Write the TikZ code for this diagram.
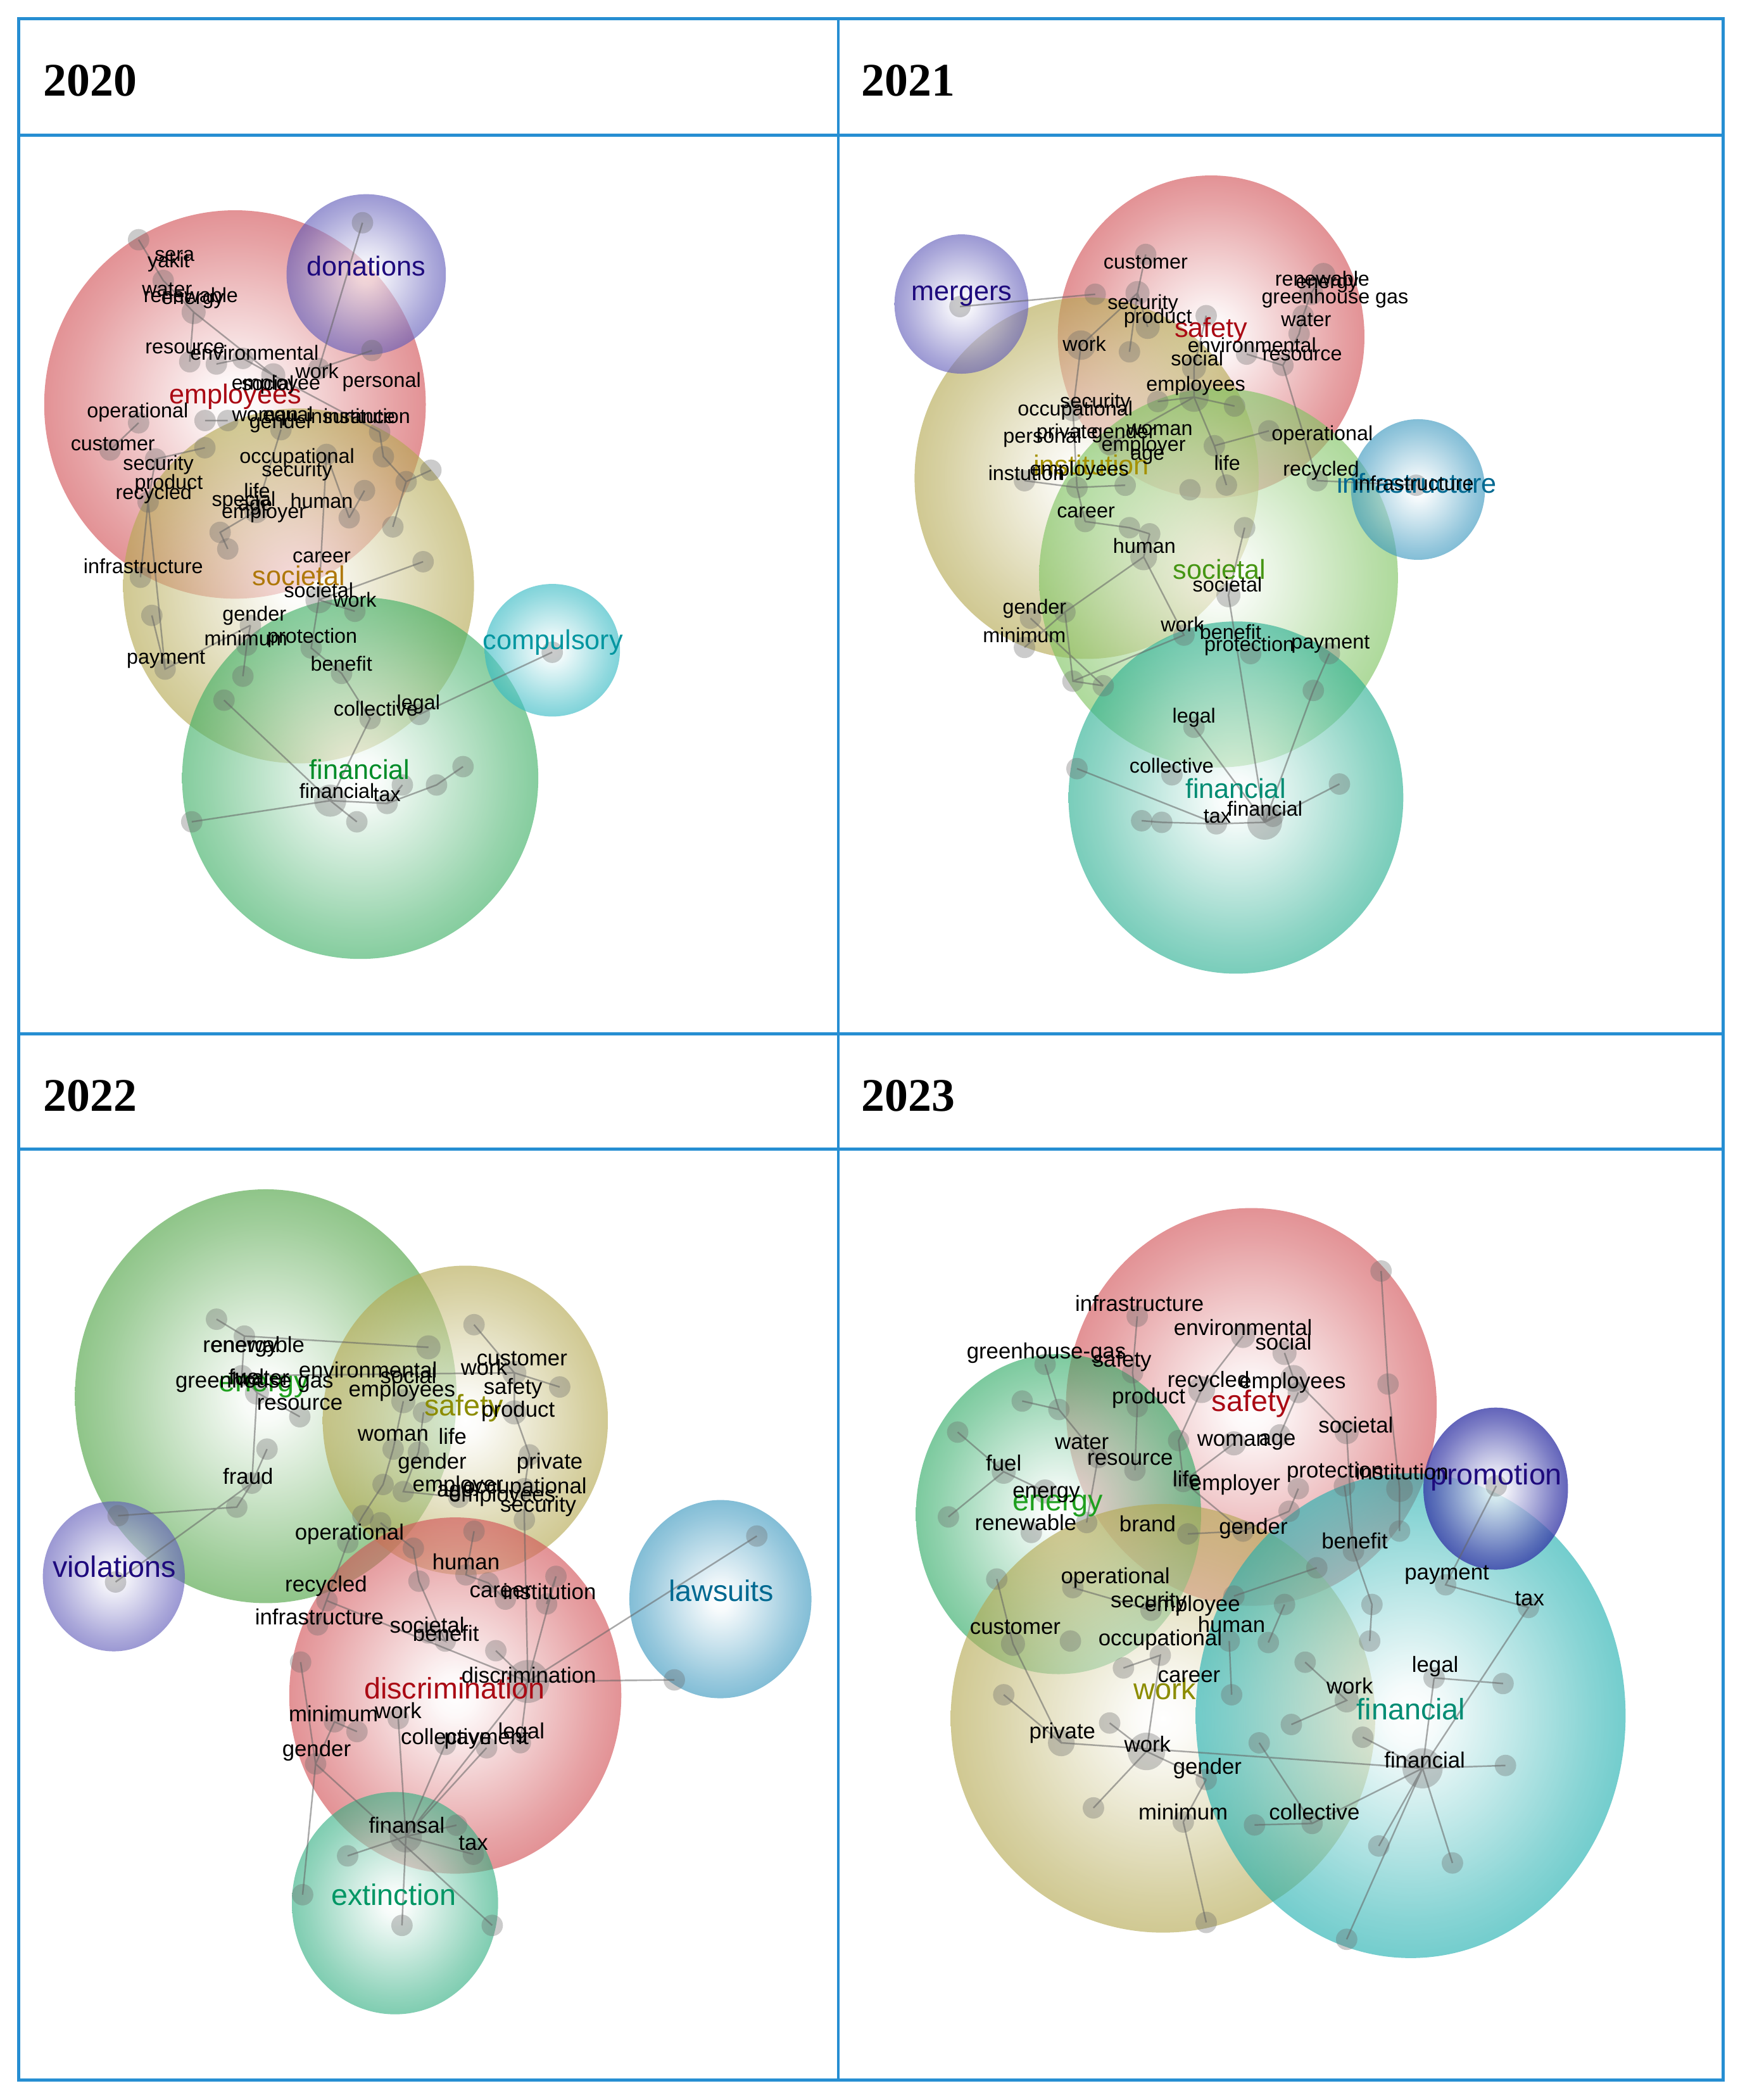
\documentclass[tikz,border=0pt]{standalone}
\usepackage{fontspec}
\setmainfont{Liberation Sans}
\newfontfamily\yearfont{Liberation Serif}
\definecolor{frame}{RGB}{38,142,210}
\definecolor{bRed}{RGB}{210,80,85}
\definecolor{bKhaki}{RGB}{180,168,80}
\definecolor{bGreen}{RGB}{60,175,100}
\definecolor{bLGreen}{RGB}{125,195,95}
\definecolor{bTeal}{RGB}{40,175,145}
\definecolor{bCyan}{RGB}{50,185,195}
\definecolor{bPurple}{RGB}{95,90,185}
\definecolor{bBlue}{RGB}{55,150,190}
\definecolor{bGreenB}{RGB}{75,162,65}
\definecolor{bTealG}{RGB}{50,175,130}
\definecolor{bGreenC}{RGB}{45,170,100}
\definecolor{bTealC}{RGB}{30,175,175}
\definecolor{bNavy}{RGB}{50,52,165}
\definecolor{lRed}{RGB}{170,10,20}
\definecolor{lNavy}{RGB}{30,10,125}
\definecolor{lGold}{RGB}{175,120,10}
\definecolor{lGreen}{RGB}{0,140,40}
\definecolor{lCyan}{RGB}{0,150,160}
\definecolor{lOlive}{RGB}{165,145,0}
\definecolor{lBlue}{RGB}{0,105,145}
\definecolor{lLGreen}{RGB}{70,150,20}
\definecolor{lTeal}{RGB}{0,140,115}
\definecolor{lOliveB}{RGB}{140,140,0}
\definecolor{lGreenB}{RGB}{30,160,30}
\definecolor{lTealB}{RGB}{0,150,100}
\colorlet{bubcol}{red}
\pgfdeclareradialshading[bubcol]{bub}{\pgfpoint{0bp}{0bp}}{%
 color(0bp)=(bubcol!0);color(3bp)=(bubcol!6);color(12bp)=(bubcol!45);color(21bp)=(bubcol!85);color(25bp)=(bubcol);color(50bp)=(bubcol)}
\tikzset{
 bubble/.code={\colorlet{bubcol}{#1}\tikzset{shading=bub}},
 bub/.style={fill opacity=.62},
 dot/.style={fill={rgb,255:red,105;green,105;blue,105}, fill opacity=.34},
 edge/.style={draw={rgb,255:red,100;green,100;blue,100}, draw opacity=.55, line width=.7pt},
 w/.style={inner sep=0pt, font=\fontsize{9.2}{10}\selectfont, text=black},
 big/.style={inner sep=0pt, font=\fontsize{12.3}{14}\selectfont},
 yr/.style={inner sep=0pt, anchor=west, font=\yearfont\bfseries\fontsize{21}{24}\selectfont},
 gridline/.style={draw=frame, line width=1.3pt}
}
\newcommand\mkdot[4][8]{\coordinate (#2) at (#3,#4);\fill[dot] (#2) circle[radius=#1];}
\newcommand\lb[4]{\node[w] (#1) at (#2,#3) {#4};}
\newcommand\bl[5]{\node[big,text=#5] (#1) at (#2,#3) {#4};}
\begin{document}
\begin{tikzpicture}[x=0.021151cm,y=-0.021151cm]
\useasboundingbox (0,0) rectangle (1303,1568);
\fill[white] (0,0) rectangle (1303,1568);
%================ 2020 =================
\shade[bubble=bRed,bub] (175.5,302) ellipse [x radius=142.5,y radius=145];
\shade[bubble=bKhaki,bub] (223,437.5) ellipse [x radius=131,y radius=132.5];
\shade[bubble=bPurple,bub] (273.5,205) ellipse [x radius=59.5,y radius=60];
\shade[bubble=bGreen,bub] (269,581) ellipse [x radius=133,y radius=135];
\shade[bubble=bCyan,bub] (412.5,485.5) ellipse [x radius=50.5,y radius=49.5];
\mkdot{a1}{270.7}{166.3}\mkdot{a2}{103.5}{179}\mkdot{a3}{121.9}{209.4}\mkdot[9]{a4}{144.6}{233}
\mkdot{a5}{277.8}{261.7}\mkdot{a6}{141.7}{270.1}\mkdot{a7}{161.6}{271.8}\mkdot{a8}{181.4}{267.6}
\mkdot[9]{a9}{204.1}{280.2}\mkdot[8]{a10}{238.1}{275.2}\mkdot{a11}{103.5}{315.7}\mkdot{a12}{153.1}{314}
\mkdot{a13}{170.1}{314}\mkdot[8]{a14}{82.2}{336}\mkdot[8]{a15}{116.2}{342.7}\mkdot{a16}{153}{334.3}
\mkdot{a17}{209.8}{320.8}\mkdot[8]{a18}{283.5}{322.5}\mkdot{a19}{286.3}{341}\mkdot{a20}{303.3}{359.6}
\mkdot{a21}{321.8}{351.1}\mkdot{a22}{272.2}{366.3}\mkdot{a23}{260.8}{386.6}\mkdot{a24}{293.4}{393.4}
\mkdot[9]{a25}{191.3}{381.6}\mkdot{a26}{164.4}{397.5}\mkdot{a27}{110.6}{374.8}\mkdot{a28}{243.8}{339.3}
\mkdot{a29}{170.1}{409.9}\mkdot{a30}{316}{419.4}\mkdot{a31}{104.9}{431}\mkdot[10]{a32}{238.1}{447.9}
\mkdot[8]{a33}{265}{456.4}\mkdot{a34}{113.4}{459.5}\mkdot{a35}{187}{466.9}\mkdot{a36}{184.3}{481.7}
\mkdot{a37}{232.4}{483.8}\mkdot[8]{a38}{123.3}{499.6}\mkdot{a39}{181.4}{504.9}\mkdot{a40}{255.1}{502.8}
\mkdot{a41}{167.3}{522.8}\mkdot[8]{a42}{276.4}{536.6}\mkdot{a43}{313.2}{533.4}\mkdot{a44}{412.4}{487}
\mkdot[12]{a45}{246.6}{597.8}\mkdot[8]{a46}{289.1}{599.9}\mkdot{a47}{300.5}{586.1}\mkdot{a48}{326}{586.1}
\mkdot{a49}{345.8}{572.4}\mkdot{a50}{143.2}{613.6}\mkdot{a51}{266.5}{613.6}
\draw[edge] (a1)--(a10) (a2)--(a3)--(a4)--(a6) (a4)--(a9) (a5)--(a10) (a7)--(a8)--(a9)--(a18)
 (a18)--(a19)--(a20)--(a21) (a20)--(a24) (a12)--(a13) (a11)--(a14) (a16)--(a15)--(a27)--(a38)
 (a27)--(a31) (a17)--(a25)--(a26)--(a29) (a28)--(a23) (a22)--(a23) (a28)--(a32) (a30)--(a32)
 (a34)--(a38)--(a35) (a35)--(a36)--(a39) (a32)--(a37)--(a40)--(a42)--(a45) (a41)--(a45)
 (a50)--(a45)--(a46)--(a48)--(a49) (a45)--(a51) (a43)--(a44) (a47)--(a46) (a32)--(a33);
\bl{A1}{175.8}{296.3}{employees}{lRed}
\bl{A2}{273.5}{198.4}{donations}{lNavy}
\bl{A3}{223.2}{430}{societal}{lGold}
\bl{A4}{268.6}{574.5}{financial}{lGreen}
\bl{A5}{413}{479.6}{compulsory}{lCyan}
\lb{at1}{130.4}{190.8}{sera}\lb{at2}{126}{195.9}{yakit}\lb{at3}{124.8}{216}{water}
\lb{at4}{142.5}{220.3}{renewable}\lb{at5}{143.9}{224.6}{energy}\lb{at6}{138.2}{260}{resource}
\lb{at7}{190}{263.4}{environmental}\lb{at8}{236.8}{276.9}{work}\lb{at9}{200}{286}{social}
\lb{at10}{206.2}{287}{employee}\lb{at11}{285}{285.3}{personal}\lb{at12}{102.8}{308.1}{operational}
\lb{at13}{198}{310.6}{woman}\lb{at14}{215}{310.6}{equal}\lb{at15}{262}{310.6}{insurance}
\lb{at16}{274}{310.6}{institution}\lb{at17}{210}{316}{gender}\lb{at18}{84.3}{331.7}{customer}
\lb{at19}{221.8}{341.9}{occupational}\lb{at20}{118.3}{347}{security}\lb{at21}{221.8}{352}{security}
\lb{at22}{126}{361.2}{product}\lb{at23}{114.8}{368.8}{recycled}\lb{at24}{192}{366.3}{life}
\lb{at25}{182}{374}{special}\lb{at26}{190.6}{379}{age}\lb{at27}{240.2}{374}{human}
\lb{at28}{197}{383.2}{employer}\lb{at29}{107}{422.6}{infrastructure}\lb{at30}{240.2}{416.2}{career}
\lb{at31}{238}{440.5}{societal}\lb{at32}{265}{447.9}{work}\lb{at33}{190}{459.5}{gender}
\lb{at34}{183.6}{476.4}{minimum}\lb{at35}{233.2}{476.4}{protection}\lb{at36}{124}{492.2}{payment}
\lb{at37}{255}{495.4}{benefit}\lb{at38}{280.6}{529.1}{collective}\lb{at39}{312.5}{526}{legal}
\lb{at40}{251.6}{590.4}{financial}\lb{at41}{289}{593.5}{tax}
%================ 2021 =================
\shade[bubble=bRed,bub] (904.5,251.5) ellipse [x radius=114.5,y radius=120.5];
\shade[bubble=bKhaki,bub] (811.5,357) ellipse [x radius=128.5,y radius=135];
\shade[bubble=bPurple,bub] (718,227) ellipse [x radius=50,y radius=52];
\shade[bubble=bLGreen,bub] (910,431.5) ellipse [x radius=134,y radius=141.5];
\shade[bubble=bBlue,bub] (1059,365.5) ellipse [x radius=50,y radius=52.5];
\shade[bubble=bTeal,bub] (923,595.5) ellipse [x radius=125,y radius=131.5];
\mkdot{b1}{855.6}{190}\mkdot[9]{b2}{849.5}{218.8}\mkdot{b3}{817.9}{219.7}\mkdot{b4}{716.9}{228.9}
\mkdot{b5}{900.8}{235.7}\mkdot[9]{b6}{857.1}{244.1}\mkdot[11]{b7}{807.3}{257.7}\mkdot{b8}{843.5}{262.7}
\mkdot[9]{b9}{988.3}{205.3}\mkdot[9]{b10}{979.2}{218.8}\mkdot[8]{b11}{973.2}{235.7}\mkdot{b12}{970.2}{249.2}
\mkdot{b13}{931}{264.4}\mkdot{b14}{958.1}{272.8}\mkdot[9]{b15}{891.7}{274.5}\mkdot[11]{b16}{891.7}{296.5}
\mkdot{b17}{922}{303.2}\mkdot{b18}{864.6}{299.8}\mkdot{b19}{801.3}{306.6}\mkdot{b20}{947.6}{321.7}
\mkdot{b21}{828.5}{331.9}\mkdot{b22}{906.9}{332.8}\mkdot{b23}{765.1}{358.9}\mkdot{b24}{840.3}{362.3}
\mkdot{b25}{983.7}{358.9}\mkdot{b26}{1057.6}{362.3}\mkdot{b27}{915.9}{362.2}\mkdot{b28}{804.3}{364}
\mkdot{b29}{888.7}{365.7}\mkdot{b30}{810.4}{389.4}\mkdot{b31}{843.5}{394}\mkdot[8]{b32}{858.6}{398.6}
\mkdot{b33}{929.5}{394}\mkdot[10]{b34}{854.1}{415.8}\mkdot[9]{b35}{917.4}{444.4}\mkdot{b36}{795.3}{457}
\mkdot{b37}{769.6}{461.6}\mkdot{b38}{765.1}{483.4}\mkdot[8]{b39}{884.2}{474.2}\mkdot{b40}{934}{488}
\mkdot{b41}{992.8}{488}\mkdot[8]{b42}{801.3}{508.6}\mkdot{b43}{823.9}{512}\mkdot{b44}{980.8}{515.5}
\mkdot{b45}{891.7}{543}\mkdot{b46}{804.3}{573.9}\mkdot[8]{b47}{875.2}{578.5}\mkdot{b48}{1000.3}{585.4}
\mkdot{b49}{950.6}{609.5}\mkdot[13]{b50}{944.5}{614}\mkdot[8]{b51}{908.4}{615.1}\mkdot{b52}{867.6}{614}
\mkdot{b53}{852.6}{612.8}
\draw[edge] (b4)--(b3) (b1)--(b2)--(b6) (b2)--(b7) (b2)--(b8) (b7)--(b19)--(b28)--(b30)
 (b5)--(b15)--(b16)--(b18) (b16)--(b17) (b16)--(b22)--(b27) (b16)--(b21)
 (b13)--(b14)--(b12)--(b11)--(b10)--(b9) (b14)--(b25)--(b26) (b20)--(b22)
 (b23)--(b28)--(b24) (b30)--(b31)--(b32) (b34)--(b36)--(b42)--(b43) (b34)--(b39)--(b42)
 (b33)--(b35)--(b50) (b37)--(b43) (b41)--(b44)--(b50) (b45)--(b50) (b46)--(b51)
 (b53)--(b52)--(b51)--(b50)--(b48) (b49)--(b50) (b32)--(b34) (b36)--(b38);
\bl{B1}{718.3}{221}{mergers}{lNavy}
\bl{B2}{904.5}{246.7}{safety}{lRed}
\bl{B3}{815}{347}{institution}{lOlive}
\bl{B4}{1058}{361}{infrastructure}{lBlue}
\bl{B5}{910.8}{425}{societal}{lLGreen}
\bl{B6}{922.7}{588.6}{financial}{lTeal}
\lb{bt1}{855.6}{196}{customer}\lb{bt2}{987.5}{208}{renewable}\lb{bt3}{991}{212.8}{energy}
\lb{bt4}{997}{223}{greenhouse gas}\lb{bt5}{853.5}{227.2}{security}\lb{bt6}{975.4}{239}{water}
\lb{bt7}{864.7}{237.4}{product}\lb{bt8}{809.8}{256.8}{work}\lb{bt9}{935}{257.7}{environmental}
\lb{bt10}{894}{267.6}{social}\lb{bt11}{972.5}{265.3}{resource}\lb{bt12}{893}{288}{employees}
\lb{bt13}{818}{300.8}{security}\lb{bt14}{803}{306.6}{occupational}\lb{bt15}{778.5}{326.7}{personal}
\lb{bt16}{797}{323.5}{private}\lb{bt17}{839}{323.5}{gender}\lb{bt18}{866}{321}{woman}
\lb{bt19}{854}{332.8}{employer}\lb{bt20}{857}{341.2}{age}\lb{bt21}{916.5}{345.4}{life}
\lb{bt22}{987.5}{325}{operational}\lb{bt23}{766.5}{353}{instution}\lb{bt24}{806}{351.3}{employees}
\lb{bt25}{986.6}{351.3}{recycled}\lb{bt26}{1056}{360.6}{infrastructure}\lb{bt27}{811}{382.5}{career}
\lb{bt28}{854.6}{407.7}{human}\lb{bt29}{916.6}{436.4}{societal}\lb{bt30}{772.6}{454.7}{gender}
\lb{bt31}{765}{474.2}{minimum}\lb{bt32}{883}{466.2}{work}\lb{bt33}{919}{471.9}{benefit}
\lb{bt34}{933}{482.3}{protection}\lb{bt35}{993.6}{481}{payment}\lb{bt36}{891.7}{536}{legal}
\lb{bt37}{875}{571.6}{collective}\lb{bt38}{944.6}{603.7}{financial}\lb{bt39}{909}{609.4}{tax}
%================ 2022 / 2023 =================
\begin{scope}[w/.append style={font=\fontsize{9.9}{11}\selectfont},big/.append style={font=\fontsize{13.3}{15}\selectfont}]
\shade[bubble=bGreenB,bub] (198.5,1042.5) ellipse [x radius=142.5,y radius=154.5];
\shade[bubble=bKhaki,bub] (347.5,1060.5) ellipse [x radius=106.5,y radius=115.5];
\shade[bubble=bPurple,bub] (85,1177) ellipse [x radius=53,y radius=56];
\shade[bubble=bBlue,bub] (538,1194) ellipse [x radius=68,y radius=74];
\shade[bubble=bRed,bub] (340,1266) ellipse [x radius=124,y radius=133];
\shade[bubble=bTealG,bub] (295,1421) ellipse [x radius=77,y radius=83];
\mkdot{c1}{161.7}{985}\mkdot{c2}{182.5}{997.6}\mkdot[9]{c3}{320}{1006}\mkdot{c4}{180.6}{1027.2}
\mkdot[9]{c5}{191.9}{1039.8}\mkdot[8]{c6}{223.9}{1057.8}\mkdot[9]{c7}{301.2}{1046.2}\mkdot{c8}{354}{989.1}
\mkdot[9]{c9}{384.1}{1025}\mkdot{c10}{418}{1035.6}\mkdot[9]{c11}{384.1}{1054.6}\mkdot{c12}{316.3}{1054.6}
\mkdot{c13}{199.4}{1082}\mkdot{c14}{293.6}{1082}\mkdot{c15}{312.5}{1084.2}\mkdot{c16}{395.4}{1086.3}
\mkdot{c17}{188.1}{1107.4}\mkdot{c18}{176.8}{1125.3}\mkdot{c19}{286.1}{1108.4}\mkdot{c20}{301.2}{1113.7}
\mkdot[8]{c21}{342.6}{1117.9}\mkdot{c22}{391.6}{1111.6}\mkdot{c23}{88.2}{1131.7}\mkdot{c24}{86.3}{1181.2}
\mkdot{c25}{271}{1131.7}\mkdot{c26}{284.2}{1137}\mkdot[8]{c27}{259.7}{1151.7}\mkdot{c28}{308.7}{1156}
\mkdot{c29}{354}{1143.3}\mkdot{c30}{391.6}{1134.8}\mkdot{c31}{565.2}{1146.9}\mkdot{c32}{312.9}{1180.6}
\mkdot{c33}{348}{1175.9}\mkdot{c34}{364.7}{1181.9}\mkdot{c35}{377.4}{1194}\mkdot[8]{c36}{415.2}{1177}
\mkdot{c37}{408.2}{1197.6}\mkdot{c38}{244.2}{1195.2}\mkdot{c39}{237.2}{1213.2}\mkdot{c40}{319.9}{1219.3}
\mkdot{c41}{332.5}{1225.3}\mkdot{c42}{370.3}{1232.5}\mkdot{c43}{224.5}{1241}\mkdot[16]{c44}{394.2}{1255.5}
\mkdot{c45}{503.6}{1254.3}\mkdot{c46}{249.8}{1285.6}\mkdot{c47}{266.6}{1292.9}\mkdot{c48}{297.4}{1283.2}
\mkdot{c49}{332.5}{1302.5}\mkdot{c50}{363.4}{1305}\mkdot{c51}{388.6}{1301.2}\mkdot[8]{c52}{235.7}{1317}
\mkdot[12]{c53}{303.1}{1371.2}\mkdot{c54}{340.9}{1362.8}\mkdot[8]{c55}{353.5}{1384.5}\mkdot{c56}{259.6}{1385.7}
\mkdot{c57}{226}{1414.7}\mkdot{c58}{300.2}{1437.6}\mkdot{c59}{367.6}{1437.6}
\draw[edge] (c1)--(c2)--(c4)--(c5) (c2)--(c3) (c4)--(c9) (c8)--(c9)--(c11) (c9)--(c10) (c5)--(c6)
 (c5)--(c17) (c13)--(c17)--(c18)--(c23) (c24)--(c17) (c7)--(c14)--(c19)--(c25)--(c27)--(c39)
 (c11)--(c16)--(c22)--(c30)--(c44) (c12)--(c15)--(c20)--(c21) (c26)--(c28)--(c32)--(c41)--(c40)
 (c29)--(c33)--(c34)--(c35) (c38)--(c44) (c36)--(c44) (c42)--(c44) (c31)--(c44) (c45)--(c44)
 (c44)--(c53) (c50)--(c53) (c49)--(c53) (c48)--(c53) (c51)--(c44) (c43)--(c52)--(c57)
 (c47)--(c46)--(c52) (c52)--(c59) (c53)--(c56) (c53)--(c58) (c53)--(c54) (c53)--(c55) (c37)--(c36);
\bl{C1}{197}{1035.5}{energy}{lGreenB}
\bl{C2}{346.4}{1051.5}{safety}{lOliveB}
\bl{C3}{85.4}{1169.7}{violations}{lNavy}
\bl{C4}{538.7}{1187.6}{lawsuits}{lBlue}
\bl{C5}{339.5}{1260.3}{discrimination}{lRed}
\bl{C6}{294}{1414.7}{extinction}{lTealB}
\lb{ct1}{189.5}{1004}{renewable}\lb{ct2}{182.5}{1007}{energy}\lb{ct3}{274.8}{1023}{environmental}
\lb{ct4}{305}{1027.2}{social}\lb{ct5}{361.5}{1020.9}{work}\lb{ct6}{389.8}{1014.5}{customer}
\lb{ct7}{190}{1032}{greenhouse gas}\lb{ct8}{184}{1028}{fuel}\lb{ct9}{196}{1029}{water}
\lb{ct10}{300.2}{1038.8}{employees}\lb{ct11}{383.1}{1036.7}{safety}\lb{ct12}{223.9}{1048.3}{resource}
\lb{ct13}{386.9}{1053.6}{product}\lb{ct14}{293.6}{1071.5}{woman}\lb{ct15}{338}{1072.6}{life}
\lb{ct16}{322.8}{1092.6}{gender}\lb{ct17}{410.5}{1092.6}{private}\lb{ct18}{185.3}{1102.2}{fraud}
\lb{ct19}{342}{1109.6}{employer}\lb{ct20}{392}{1110.8}{occupational}\lb{ct21}{340}{1115}{age}
\lb{ct22}{375}{1117}{employees}\lb{ct23}{402}{1124.5}{security}\lb{ct24}{261}{1145.6}{operational}
\lb{ct25}{348}{1166.3}{human}\lb{ct26}{243.5}{1184.3}{recycled}\lb{ct27}{374}{1188.2}{career}
\lb{ct28}{410.4}{1188.2}{institution}\lb{ct29}{238.5}{1207.2}{infrastructure}\lb{ct30}{319}{1213.3}{societal}
\lb{ct31}{333}{1219.3}{benefit}\lb{ct32}{394.9}{1250.6}{discrimination}\lb{ct33}{249}{1279.6}{minimum}
\lb{ct34}{297.4}{1277.2}{work}\lb{ct35}{333.2}{1296.5}{collective}\lb{ct36}{363.3}{1299}{payment}
\lb{ct37}{389.3}{1294}{legal}\lb{ct38}{236.4}{1307.4}{gender}\lb{ct39}{303.8}{1362.8}{finansal}
\lb{ct40}{353.5}{1376.1}{tax}
%---- 2023
\shade[bubble=bRed,bub] (934.5,1050.5) ellipse [x radius=138.5,y radius=148.5];
\shade[bubble=bGreenC,bub] (790.5,1130.5) ellipse [x radius=106.5,y radius=119.5];
\shade[bubble=bKhaki,bub] (868.5,1283) ellipse [x radius=158.5,y radius=160];
\shade[bubble=bTealC,bub] (1053.5,1281) ellipse [x radius=160.5,y radius=181];
\shade[bubble=bNavy,fill opacity=.76] (1117,1111.5) ellipse [x radius=54,y radius=60.5];
\mkdot{d1}{1031.4}{949}\mkdot{d2}{849.3}{982.8}\mkdot[9]{d3}{928.3}{997.5}\mkdot[9]{d4}{959.3}{1010.2}
\mkdot{d5}{780.5}{1018.7}\mkdot[8]{d6}{845.8}{1025}\mkdot{d7}{1036.6}{1033.4}\mkdot[10]{d8}{966.1}{1029.2}
\mkdot[10]{d9}{897.4}{1037.6}\mkdot{d10}{763.4}{1046.1}\mkdot{d11}{790.8}{1052.4}\mkdot{d12}{849.3}{1050.3}
\mkdot{d13}{969.6}{1039.7}\mkdot{d14}{715.2}{1069.3}\mkdot{d15}{880.2}{1075.6}\mkdot[9]{d16}{921.5}{1077.7}
\mkdot{d17}{955.8}{1071.4}\mkdot[9]{d18}{1005.7}{1069.3}\mkdot{d19}{820}{1088.3}\mkdot[9]{d20}{749.6}{1098.9}
\mkdot{d21}{847.6}{1097.8}\mkdot{d22}{883.7}{1106.2}\mkdot[10]{d23}{1045.2}{1111.5}\mkdot{d24}{1117.4}{1109.4}
\mkdot{d25}{1004}{1109.4}\mkdot{d26}{969.6}{1111.5}\mkdot{d27}{708.3}{1132.6}\mkdot[9]{d28}{780.5}{1113.6}
\mkdot{d29}{770.2}{1144.2}\mkdot{d30}{811.5}{1136.8}\mkdot{d31}{887.1}{1145.3}\mkdot{d32}{928.3}{1143.2}
\mkdot{d33}{962.7}{1128.4}\mkdot{d34}{1045.2}{1143.2}\mkdot[8]{d35}{1010.8}{1158}\mkdot{d36}{983.4}{1170.6}
\mkdot[8]{d37}{1079.6}{1183.3}\mkdot[8]{d38}{1141.5}{1200.2}\mkdot[8]{d39}{744.4}{1179}\mkdot{d40}{801.2}{1185.4}
\mkdot{d41}{859.6}{1202.3}\mkdot{d42}{921.5}{1191.7}\mkdot{d43}{959.3}{1198}\mkdot{d44}{1024.6}{1198}
\mkdot[9]{d45}{756.5}{1227.4}\mkdot{d46}{799.4}{1225.3}\mkdot[8]{d47}{866.5}{1235.9}\mkdot{d48}{918}{1225.3}
\mkdot{d49}{947.2}{1226.4}\mkdot{d50}{839}{1245.4}\mkdot{d51}{974.7}{1241.1}\mkdot[8]{d52}{1071}{1252.8}
\mkdot{d53}{1122.5}{1257}\mkdot{d54}{749.6}{1265.4}\mkdot{d55}{919.8}{1265.4}\mkdot[9]{d56}{1005.7}{1269.6}
\mkdot{d57}{828.7}{1286.5}\mkdot{d58}{964.4}{1287.6}\mkdot[10]{d59}{792.6}{1301.3}\mkdot[14]{d60}{856.2}{1307.7}
\mkdot{d61}{940.4}{1301.3}\mkdot{d62}{1017.7}{1297.1}\mkdot[15]{d63}{1062.4}{1320.3}\mkdot{d64}{1124.3}{1318.2}
\mkdot{d65}{900.8}{1328.7}\mkdot{d66}{816.6}{1349.9}\mkdot{d67}{883.7}{1360.4}\mkdot{d68}{936.9}{1362.6}
\mkdot{d69}{979.9}{1361.5}\mkdot{d70}{1029.7}{1378.3}\mkdot{d71}{1084.7}{1391}\mkdot{d72}{900.8}{1435.4}
\mkdot{d73}{1005.7}{1448}\mkdot{d74}{1022.9}{1225.3}
\draw[edge] (d1)--(d7)--(d23) (d2)--(d6)--(d12)--(d21) (d3)--(d9) (d4)--(d8) (d5)--(d11)--(d19)--(d30)
 (d10)--(d11) (d14)--(d20)--(d27) (d20)--(d28) (d9)--(d15)--(d22) (d8)--(d18) (d13)--(d17)
 (d18)--(d35)--(d44) (d16)--(d22)--(d32) (d24)--(d37)--(d38)--(d63) (d23)--(d34) (d31)--(d32)--(d33)
 (d36)--(d42) (d39)--(d45)--(d59) (d54)--(d59)--(d63) (d60)--(d57) (d60)--(d66) (d60)--(d65)
 (d60)--(d47)--(d50) (d67)--(d72) (d65)--(d67) (d68)--(d69)--(d63) (d61)--(d69) (d58)--(d56)--(d51)
 (d62)--(d63) (d63)--(d64) (d52)--(d53) (d52)--(d63) (d63)--(d70) (d63)--(d71) (d63)--(d73)
 (d74)--(d44) (d48)--(d55) (d49)--(d43) (d41)--(d40) (d26)--(d33) (d25)--(d35);
\bl{D1}{934.4}{1048.2}{safety}{lRed}
\bl{D2}{790}{1124.2}{energy}{lGreenB}
\bl{D3}{1117.4}{1103}{promotion}{lNavy}
\bl{D4}{870}{1261.2}{work}{lOliveB}
\bl{D5}{1053.8}{1276}{financial}{lTeal}
\lb{dt1}{851}{973.3}{infrastructure}\lb{dt2}{928.3}{991.2}{environmental}\lb{dt3}{958.5}{1001.8}{social}
\lb{dt4}{781.4}{1010.2}{greenhouse-gas}\lb{dt5}{838}{1016.5}{safety}\lb{dt6}{902.5}{1031.3}{recycled}
\lb{dt7}{965.3}{1032.4}{employees}\lb{dt8}{857.8}{1044}{product}\lb{dt9}{1012.6}{1064}{societal}
\lb{dt10}{808}{1076.7}{water}\lb{dt11}{920.6}{1075.6}{woman}\lb{dt12}{954}{1076.7}{age}
\lb{dt13}{749.6}{1092.5}{fuel}\lb{dt14}{844}{1089.4}{resource}\lb{dt15}{997}{1099}{protection}
\lb{dt16}{1047}{1099}{institution}\lb{dt17}{886.3}{1104.1}{life}\lb{dt18}{922.3}{1108.4}{employer}
\lb{dt19}{781.4}{1115.8}{energy}\lb{dt20}{766}{1136.8}{renewable}\lb{dt21}{857}{1137.9}{brand}
\lb{dt22}{936}{1141}{gender}\lb{dt23}{1011.7}{1150.6}{benefit}\lb{dt24}{1080.5}{1176}{payment}
\lb{dt25}{1142.3}{1193.9}{tax}\lb{dt26}{833}{1178}{operational}\lb{dt27}{857.8}{1196}{security}
\lb{dt28}{890.5}{1199}{employee}\lb{dt29}{919.7}{1212.8}{human}\lb{dt30}{758.2}{1215}{customer}
\lb{dt31}{866.5}{1224.5}{occupational}\lb{dt32}{1071.8}{1244.3}{legal}\lb{dt33}{888}{1251.7}{career}
\lb{dt34}{1008}{1259}{work}\lb{dt35}{793.4}{1294}{private}\lb{dt36}{857}{1302.4}{work}
\lb{dt37}{901.7}{1320.3}{gender}\lb{dt38}{1064}{1314}{financial}\lb{dt39}{883.6}{1353}{minimum}
\lb{dt40}{981.6}{1353}{collective}
\end{scope}
%================ frame =================
\coordinate (tl) at (14,14); \coordinate (br) at (1287,1553);
\draw[gridline] (tl) rectangle (br);
\draw[gridline] (626,14)--(626,1553) (14,101)--(1287,101) (14,772)--(1287,772) (14,858)--(1287,858);
\node[yr] (y20) at (32,60) {2020};
\node[yr] (y21) at (643,60) {2021};
\node[yr] (y22) at (32,818) {2022};
\node[yr] (y23) at (643,818) {2023};
\end{tikzpicture}
\end{document}
